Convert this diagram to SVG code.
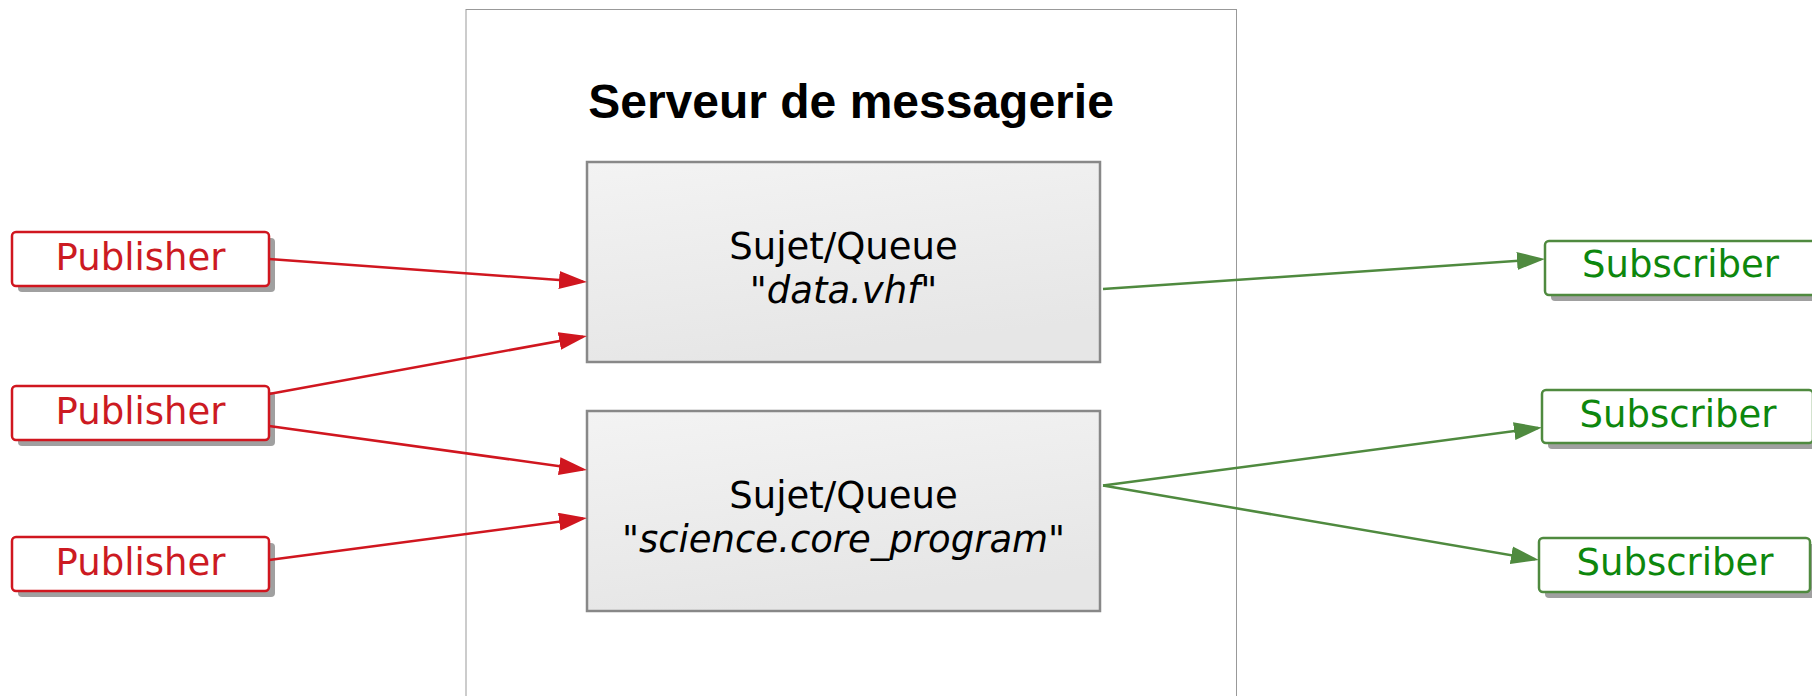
<svg xmlns="http://www.w3.org/2000/svg" width="1812" height="696" viewBox="0 0 1812 696">
<style>
.sans{font-family:"DejaVu Sans",sans-serif;font-size:37px;text-anchor:middle}
.title{font-family:"Liberation Sans",Arial,sans-serif;font-weight:bold;font-size:48px;text-anchor:middle;fill:#000}
.pub rect.b{fill:#fff;stroke:#d0161f;stroke-width:2.5}
.pub text{fill:#cc1a22}
.sub rect.b{fill:#fff;stroke:#4f8a3f;stroke-width:2.5}
.sub text{fill:#0d870d}
.shadow{fill:#a0a0a0}
.queue rect{fill:url(#qg);stroke:#888;stroke-width:2.5}
.queue text{fill:#000}
.red{stroke:#d0161f;stroke-width:2.5;fill:none;marker-end:url(#ar)}
.green{stroke:#4f8a3f;stroke-width:2.5;fill:none;marker-end:url(#ag)}
</style>
<defs>
<linearGradient id="qg" x1="0" y1="0" x2="0.3" y2="1">
<stop offset="0" stop-color="#f3f3f3"/>
<stop offset="1" stop-color="#e6e6e6"/>
</linearGradient>
<marker id="ar" markerUnits="userSpaceOnUse" markerWidth="30" markerHeight="20" refX="24" refY="9" orient="auto">
<path d="M0,0 L28,9 L0,18 z" fill="#d0161f"/>
</marker>
<marker id="ag" markerUnits="userSpaceOnUse" markerWidth="30" markerHeight="20" refX="24" refY="9" orient="auto">
<path d="M0,0 L28,9 L0,18 z" fill="#4f8a3f"/>
</marker>
</defs>
<rect width="1812" height="696" fill="#fff"/>
<g id="server">
<rect x="466" y="9.5" width="770.5" height="700" fill="#fff" stroke="#999" stroke-width="1"/>
<text class="title" x="851" y="118">Serveur de messagerie</text>
</g>
<g id="queue1" class="queue">
<rect x="587" y="162" width="513" height="200"/>
<text class="sans" x="843.5" y="259">Sujet/Queue</text>
<text class="sans" x="843.5" y="303">"<tspan font-style="italic">data.vhf</tspan>"</text>
</g>
<g id="queue2" class="queue">
<rect x="587" y="411" width="513" height="200"/>
<text class="sans" x="843.5" y="508">Sujet/Queue</text>
<text class="sans" x="843.5" y="552">"<tspan font-style="italic">science.core_program</tspan>"</text>
</g>
<g id="pub1" class="pub">
<rect class="shadow" x="18" y="238" width="257" height="54" rx="4"/>
<rect class="b" x="12" y="232" width="257" height="54" rx="4"/>
<text class="sans" x="140.5" y="270">Publisher</text>
</g>
<g id="pub2" class="pub">
<rect class="shadow" x="18" y="392" width="257" height="54" rx="4"/>
<rect class="b" x="12" y="386" width="257" height="54" rx="4"/>
<text class="sans" x="140.5" y="424">Publisher</text>
</g>
<g id="pub3" class="pub">
<rect class="shadow" x="18" y="543" width="257" height="54" rx="4"/>
<rect class="b" x="12" y="537" width="257" height="54" rx="4"/>
<text class="sans" x="140.5" y="575">Publisher</text>
</g>
<g id="sub1" class="sub">
<rect class="shadow" x="1551" y="247" width="271" height="54" rx="4"/>
<rect class="b" x="1545" y="241" width="271" height="54" rx="4"/>
<text class="sans" x="1680.5" y="277">Subscriber</text>
</g>
<g id="sub2" class="sub">
<rect class="shadow" x="1548" y="396" width="271" height="53" rx="4"/>
<rect class="b" x="1542" y="390" width="271" height="53" rx="4"/>
<text class="sans" x="1678" y="427">Subscriber</text>
</g>
<g id="sub3" class="sub">
<rect class="shadow" x="1545" y="544" width="271" height="54" rx="4"/>
<rect class="b" x="1539" y="538" width="271" height="54" rx="4"/>
<text class="sans" x="1675" y="575">Subscriber</text>
</g>
<g id="connectors">
<line class="red" x1="269" y1="259" x2="583" y2="281.7"/>
<line class="red" x1="269" y1="394" x2="583" y2="336.7"/>
<line class="red" x1="269" y1="426" x2="583" y2="469.5"/>
<line class="red" x1="269" y1="560" x2="583" y2="518.5"/>
<line class="green" x1="1103" y1="289" x2="1541" y2="259.3"/>
<line class="green" x1="1103" y1="485.5" x2="1538" y2="428"/>
<line class="green" x1="1103" y1="485.5" x2="1535" y2="559.3"/>
</g>
</svg>
